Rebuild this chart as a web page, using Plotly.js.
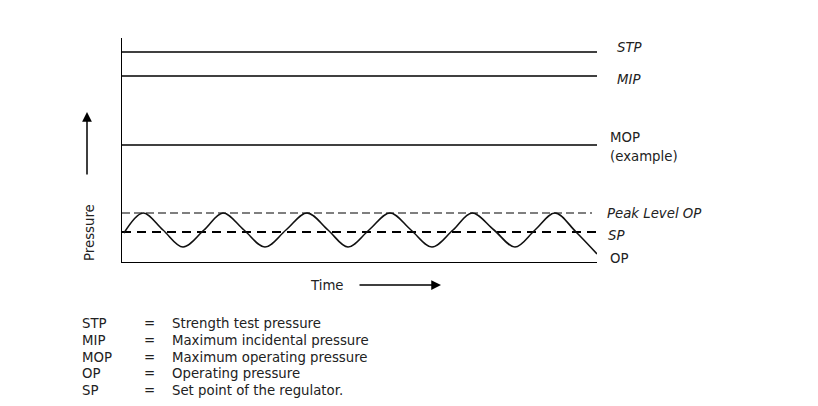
<!DOCTYPE html>
<html>
<head>
<meta charset="utf-8">
<script src="https://cdn.plot.ly/plotly-3.0.1.min.js"></script>
<style>html,body{margin:0;padding:0;background:#fff;}#chart{width:818px;height:406px;}</style>
</head>
<body>
<div id="chart"></div>
<script>
// Pressure levels (arbitrary units)
const levelNames = ["STP", "MIP", "MOP", "Peak Level OP", "SP"];
const levelValues = [210, 186, 117, 49, 30];
const lineEnd = 475;
const peakLineEnd = 470;

// Operating pressure wave (time, pressure)
const opTime = [2, 21, 41, 61, 82, 101, 122, 143, 164, 185, 206, 226, 247, 268, 289, 310, 331, 350, 372, 393, 413, 433, 454, 475];
const opPressure = [29, 49, 32, 15, 32, 49, 32, 15, 32, 49, 32, 15, 32, 49, 32, 15, 32, 49, 32, 15, 32, 49, 30, 8];

// Legend definitions
const abbrevs = ["STP", "MIP", "MOP", "OP", "SP"];
const meanings = ["Strength test pressure", "Maximum incidental pressure", "Maximum operating pressure", "Operating pressure", "Set point of the regulator."];

const FONT = "DejaVu Sans, Verdana, sans-serif";
const TXT = "#222";
const FS = 13.3;

const traces = [];
for (let i = 0; i < 3; i++) {
  traces.push({x: [0, lineEnd], y: [levelValues[i], levelValues[i]], mode: "lines",
    line: {color: "#000", width: 1.4}, hoverinfo: "skip", showlegend: false});
}
traces.push({x: [0, peakLineEnd], y: [levelValues[3], levelValues[3]], mode: "lines",
  line: {color: "#000", width: 1.2, dash: "8px,4px"}, hoverinfo: "skip", showlegend: false});
traces.push({x: [0, lineEnd], y: [levelValues[4], levelValues[4]], mode: "lines",
  line: {color: "#000", width: 2, dash: "9px,6px"}, hoverinfo: "skip", showlegend: false});
traces.push({x: opTime, y: opPressure, mode: "lines",
  line: {color: "#111", width: 1.6, shape: "spline", smoothing: 1}, hoverinfo: "skip", showlegend: false});

// pixel -> paper coordinates
const PL = 122, PW = 475, PB = 262, PH = 224;
const px = p => (p - PL) / PW;
const py = p => (PB - p) / PH;

const ann = [];
function label(text, x, y, italic, anchor) {
  ann.push({text: italic ? "<i>" + text + "</i>" : text, x: px(x), y: py(y), xref: "paper", yref: "paper",
    showarrow: false, xanchor: anchor || "left", yanchor: "middle", borderpad: 0,
    font: {family: FONT, size: FS, color: TXT}});
}
label("STP", 616, 48, true);
label("MIP", 616, 79, true);
label("MOP", 609, 137, false);
label("(example)", 609, 156, false);
label("Peak Level OP", 606, 213, true);
label("SP", 607, 235, true);
label("OP", 609, 258, false);
label("Time", 327, 285, false, "center");

ann.push({text: "Pressure", x: px(89), y: py(233), xref: "paper", yref: "paper", showarrow: false,
  textangle: -90, xanchor: "center", yanchor: "middle", borderpad: 0, font: {family: FONT, size: FS, color: TXT}});

ann.push({text: "", x: px(87), y: py(112), xref: "paper", yref: "paper", showarrow: true,
  ax: 0, ay: 64, arrowhead: 2, arrowsize: 1.3, arrowwidth: 1.5, arrowcolor: "#000"});
ann.push({text: "", x: px(441), y: py(285), xref: "paper", yref: "paper", showarrow: true,
  ax: -83, ay: 0, arrowhead: 2, arrowsize: 1.3, arrowwidth: 1.5, arrowcolor: "#000"});

const rowY = [323, 340, 357, 373, 390];
for (let i = 0; i < abbrevs.length; i++) {
  label(abbrevs[i], 81, rowY[i], false);
  label("=", 143, rowY[i], false);
  label(meanings[i], 171, rowY[i], false);
}

const layout = {
  width: 818, height: 406,
  margin: {l: 122, r: 221, t: 38, b: 144, pad: 0},
  paper_bgcolor: "#fff", plot_bgcolor: "#fff",
  showlegend: false,
  xaxis: {range: [0, 475], showline: true, linecolor: "#000", linewidth: 1.4, showgrid: false,
    zeroline: false, showticklabels: false, ticks: "", fixedrange: true},
  yaxis: {range: [0, 224], showline: true, linecolor: "#000", linewidth: 1.4, showgrid: false,
    zeroline: false, showticklabels: false, ticks: "", fixedrange: true},
  annotations: ann
};

Plotly.newPlot("chart", traces, layout, {displayModeBar: false, staticPlot: true});
</script>
</body>
</html>
